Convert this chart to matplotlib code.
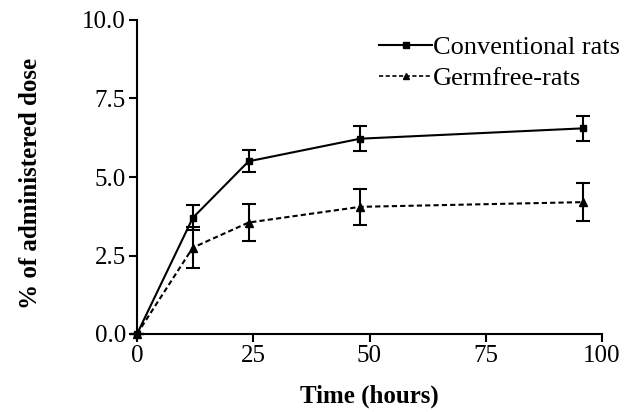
import matplotlib
matplotlib.use('Agg')
import matplotlib.pyplot as plt
from matplotlib.lines import Line2D

# Data
hours = [0, 12, 24, 48, 96]
conv = [0.0, 3.7, 5.5, 6.22, 6.55]
conv_err = [0.0, 0.4, 0.35, 0.4, 0.4]
germ = [0.0, 2.75, 3.55, 4.05, 4.2]
germ_err = [0.0, 0.65, 0.6, 0.57, 0.6]

plt.rcParams['font.family'] = ['Liberation Serif', 'DejaVu Serif']

fig = plt.figure(figsize=(6.26, 4.12), dpi=100)
ax = fig.add_axes([137/626, 78/412, 465/626, 314/412])

dash = (0, (2.5, 1.5))
ax.errorbar(hours, conv, yerr=conv_err, color='black', lw=1.5, marker='s', ms=5,
            capsize=5, capthick=1.5, elinewidth=1.5, clip_on=False)
ax.errorbar(hours, germ, yerr=germ_err, color='black', lw=1.5, ls=dash, marker='^', ms=6,
            capsize=5, capthick=1.5, elinewidth=1.5, clip_on=False)

ax.set_xlim(0, 100)
ax.set_ylim(0, 10)
ax.set_xticks([0, 25, 50, 75, 100])
ax.set_yticks([0, 2.5, 5.0, 7.5, 10.0])
ax.set_yticklabels(['0.0', '2.5', '5.0', '7.5', '10.0'])
ax.spines['top'].set_visible(False)
ax.spines['right'].set_visible(False)
ax.spines['left'].set_linewidth(1.5)
ax.spines['bottom'].set_linewidth(1.5)
ax.tick_params(direction='out', length=6, width=1.5, labelsize=18, pad=2)

ax.set_xlabel('Time (hours)', fontsize=18, fontweight='bold')
ax.set_ylabel('% of administered dose', fontsize=18, fontweight='bold')
ax.xaxis.set_label_coords(0.5, -0.16)
ax.yaxis.set_label_coords(-0.205, 0.48)

handles = [Line2D([], [], color='black', lw=1.5, marker='s', ms=4),
           Line2D([], [], color='black', lw=1.2, ls=dash, marker='^', ms=4)]
ax.legend(handles, ['Conventional rats', 'Germfree-rats'], loc='upper right',
          bbox_to_anchor=(1.062, 0.985), frameon=False, fontsize=19,
          handlelength=2.0, handletextpad=0.05, labelspacing=0.3, borderaxespad=0)

fig.savefig('out.png', dpi=100)
